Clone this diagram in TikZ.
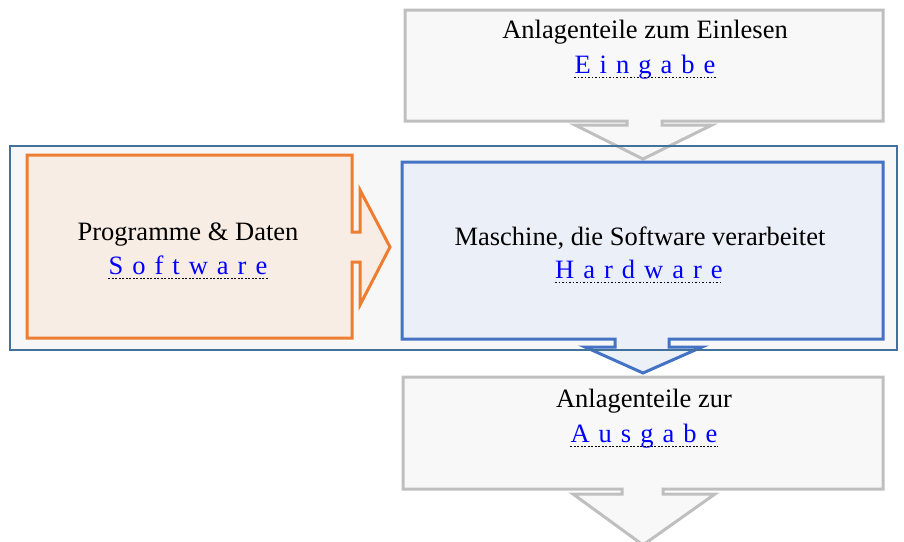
\documentclass[tikz,border=0pt]{standalone}
\usepackage{fontspec}
\setmainfont{Liberation Serif}
\definecolor{grayline}{RGB}{191,191,191}
\definecolor{grayfill}{RGB}{247,247,247}
\definecolor{orline}{RGB}{237,125,49}
\definecolor{orfill}{RGB}{248,237,228}
\definecolor{blline}{RGB}{68,114,196}
\definecolor{blfill}{RGB}{233,238,247}
\definecolor{frline}{RGB}{65,113,156}
\definecolor{linkblue}{RGB}{0,0,255}
\def\ls{\hskip 0.34em}
\tikzset{
  graybox/.style={draw=grayline, fill=grayfill, line width=3pt, fill opacity=0.85, line join=miter},
  orbox/.style={draw=orline, fill=orfill, line width=3pt, line join=miter},
  blbox/.style={draw=blline, fill=blfill, line width=3pt, fill opacity=0.85, line join=miter},
  maintext/.style={inner sep=0pt, anchor=base, font=\fontsize{26.5}{30}\selectfont},
  linktext/.style={inner sep=0pt, anchor=base, text=linkblue, font=\fontsize{26.5}{30}\selectfont},
  uline/.style={draw=black, line width=1.4pt, dash pattern=on 1.6pt off 1.9pt}
}
\begin{document}
\begin{tikzpicture}[x=1pt,y=-1pt]
\useasboundingbox (0,0) rectangle (904,541);
% outer frame fill
\fill[grayfill] (10,146) rectangle (897,350);
% top input box with arrow
\path[graybox] (405,10) -- (883,10) -- (883,121) -- (662,121) -- (662,125) -- (712,125)
  -- (643,159) -- (575,125) -- (627,125) -- (627,121) -- (405,121) -- cycle;
% software box with arrow
\path[orbox] (27,155) -- (352,155) -- (352,232) -- (360,232) -- (360,190) -- (390,247)
  -- (360,305) -- (360,262) -- (352,262) -- (352,338) -- (27,338) -- cycle;
% hardware box with arrow
\path[blbox] (402,162) -- (883,162) -- (883,339) -- (669,339) -- (669,347) -- (702,347)
  -- (643,373) -- (585,347) -- (615,347) -- (615,339) -- (402,339) -- cycle;
% frame outline on top
\draw[frline, line width=2.5pt] (10,146) rectangle (897,350);
% output box with arrow
\path[graybox] (403,377) -- (883,377) -- (883,489) -- (663,489) -- (663,494) -- (715,494)
  -- (643,545) -- (573,494) -- (622,494) -- (622,489) -- (403,489) -- cycle;
% texts
\node[maintext] (t1) at (645,38) {Anlagenteile zum Einlesen};
\node[linktext] (l1) at (645,73) {E\ls i\ls n\ls g\ls a\ls b\ls e\ls};
\draw[uline] ([yshift=-4.5pt]l1.base west) -- ([yshift=-4.5pt]l1.base east);
\node[maintext] (t2) at (188,240) {Programme \& Daten};
\node[linktext] (l2) at (188,274) {S\ls o\ls f\ls t\ls w\ls a\ls r\ls e\ls};
\draw[uline] ([yshift=-4.5pt]l2.base west) -- ([yshift=-4.5pt]l2.base east);
\node[maintext] (t3) at (640,245) {Maschine, die Software verarbeitet};
\node[linktext] (l3) at (639,278) {H\ls a\ls r\ls d\ls w\ls a\ls r\ls e\ls};
\draw[uline] ([yshift=-4.5pt]l3.base west) -- ([yshift=-4.5pt]l3.base east);
\node[maintext] (t4) at (644,407) {Anlagenteile zur};
\node[linktext] (l4) at (644,442) {A\ls u\ls s\ls g\ls a\ls b\ls e\ls};
\draw[uline] ([yshift=-4.5pt]l4.base west) -- ([yshift=-4.5pt]l4.base east);
\end{tikzpicture}
\end{document}
